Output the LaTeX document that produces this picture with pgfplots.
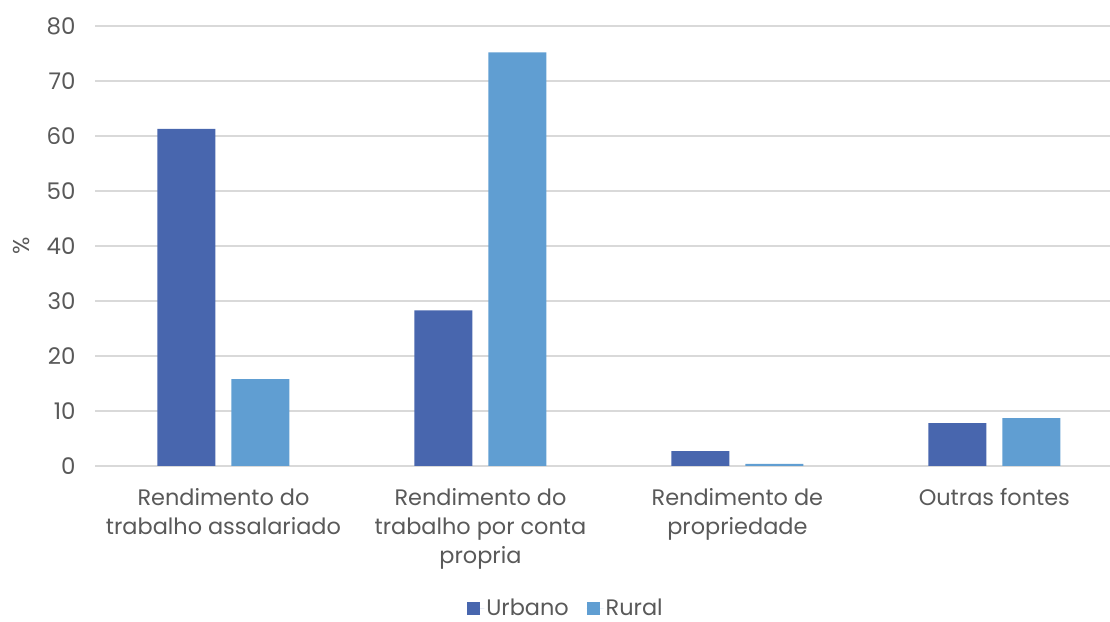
\documentclass[border=0pt]{standalone}
\usepackage{fontspec}
\setmainfont{Poppins}
\usepackage{pgfplots}
\pgfplotsset{compat=1.18}
\definecolor{urb}{HTML}{4866AE}
\definecolor{rur}{HTML}{609ED2}
\definecolor{txt}{HTML}{595959}
\definecolor{grd}{HTML}{D9D9D9}
\begin{document}
\begin{tikzpicture}
\useasboundingbox (0,0) rectangle (1110bp,622bp);
\begin{axis}[
  at={(95bp,156bp)}, anchor=south west,
  scale only axis, width=1015bp, height=440bp,
  ybar=16bp, bar width=58bp,
  xmin=-0.5, xmax=3.45, ymin=0, ymax=80,
  ytick={0,10,...,80},
  xtick=data,
  xticklabels={{Rendimento do\\trabalho assalariado},{Rendimento do\\trabalho por conta\\propria},{Rendimento de\\propriedade},{Outras fontes}},
  x tick label style={align=center, font=\fontsize{22.5}{29}\selectfont, text=txt, yshift=-15bp},
  y tick label style={font=\fontsize{23}{26}\selectfont, text=txt},
  /pgf/number format/assume math mode=true,
  yticklabel style={xshift=-16bp},
  axis line style={draw=none},
  tick style={draw=none},
  ymajorgrids, grid style={grd, line width=1.3bp},
  ylabel={\%}, ylabel style={font=\fontsize{23}{26}\selectfont, text=txt, at={(axis description cs:-0.072,0.5)}, anchor=center},
  legend style={at={(471bp,-142bp)}, anchor=center, draw=none, fill=none, legend columns=2, font=\fontsize{22.5}{26}\selectfont, text=txt, /tikz/every even column/.append style={column sep=16bp}, /tikz/every odd column/.append style={column sep=0bp}},
  legend image code/.code={\fill[#1] (0bp,-6.5bp) rectangle (13bp,6.5bp); \path (0bp,0bp) -- (17bp,0bp);},
  legend cell align=left,
  clip=true,
]
\addplot[fill=urb, draw=none] coordinates {(0,61.3) (1,28.3) (2,2.7) (3,7.8)};
\addplot[fill=rur, draw=none] coordinates {(0,15.8) (1,75.2) (2,0.4) (3,8.7)};
\legend{Urbano,Rural}
\end{axis}
\end{tikzpicture}
\end{document}
